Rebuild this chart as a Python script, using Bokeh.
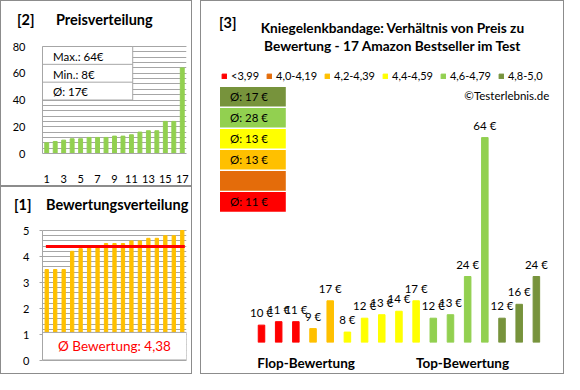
from bokeh.plotting import figure
from bokeh.models import (ColumnDataSource, Div, FixedTicker, Label, Legend, LegendItem,
                          Range1d, SingleIntervalTicker)
from bokeh.layouts import row, column
from bokeh.embed import file_html
from bokeh.resources import INLINE
from bokeh.core.properties import value

# ---------------- data ----------------
ratings = [3.5, 3.5, 3.5, 4.2, 4.3, 4.4, 4.4, 4.5, 4.5, 4.5, 4.6, 4.6, 4.7, 4.7, 4.8, 4.8, 5.0]
prices = [10, 11, 11, 9, 17, 8, 12, 13, 14, 17, 12, 13, 24, 64, 12, 16, 24]
class_labels = ["<3,99", "4,0-4,19", "4,2-4,39", "4,4-4,59", "4,6-4,79", "4,8-5,0"]
class_colors = ["#FF0000", "#E46C0A", "#FFC000", "#FFFF00", "#92D050", "#77933C"]
class_lower = [0.0, 4.0, 4.2, 4.4, 4.6, 4.8]
price_ticks = [1, 3, 5, 7, 9, 11, 13, 15, 17]
flop_top_labels = ["Flop-Bewertung", "Top-Bewertung"]

FONT = "Lato"
GRID = "#a6a6a6"
BORDER = "#8c8c8c"
TXT = "#000000"
BLINE = "1px solid " + BORDER
PANEL_STYLE = {"border": BLINE, "box-sizing": "border-box"}
HEAD_STYLE = {"border": BLINE, "border-bottom": "none", "box-sizing": "border-box",
              "background-color": "white"}
BODY_STYLE = {"border": BLINE, "border-top": "none", "box-sizing": "border-box"}


def mapper(fl, ft, fw, fh, xr, yr):
    def fx(px):
        return xr[0] + (px - fl) / fw * (xr[1] - xr[0])

    def fy(py):
        return yr[1] - (py - ft) / fh * (yr[1] - yr[0])
    return fx, fy


def base_fig(w, h, xr, yr, l, r, t, b, styles):
    p = figure(width=w, height=h, x_range=Range1d(*xr), y_range=Range1d(*yr),
               output_backend="svg", toolbar_location=None, title=None,
               min_border_left=l, min_border_right=r, min_border_top=t, min_border_bottom=b,
               background_fill_color="white", border_fill_color="white",
               outline_line_color=None, styles=styles)
    return p


def label(p, x, y, text, size, bold=False, align="left", color=TXT):
    p.add_layout(Label(x=x, y=y, text=text, text_font=FONT,
                       text_font_size=size, text_font_style="bold" if bold else "normal",
                       text_align=align, text_baseline="middle", text_color=color))


def head_div(w, h, tag, title, tag_x, title_x, top):
    span = ('<span style="position:absolute;left:%dpx;top:%dpx;white-space:nowrap;">%s</span>')
    html = ('<div style="position:relative;width:%dpx;height:%dpx;font-family:Lato;'
            'font-weight:bold;font-size:14.5px;line-height:17px;color:#000;">' % (w - 2, h - 1)
            + span % (tag_x, top, tag) + span % (title_x, top, title) + '</div>')
    return Div(text=html, width=w, height=h, margin=0, styles=HEAD_STYLE)


n = len(prices)
idx = list(range(1, n + 1))

# ---------------- panel [2] Preisverteilung ----------------
W2, H2, HH2 = 192, 186, 30
head2 = head_div(W2, HH2, "[2]", "Preisverteilung", 16, 55, 10)
BH2 = H2 - HH2
L2, R2, B2 = 41, 7, 33
plot_top2 = 46 - HH2               # where the value 80 sits inside the body
ymax2 = 80
fh2 = BH2 - B2
yr2 = (0, ymax2 * fh2 / (fh2 - plot_top2))
xr2 = (0.5, 17.5)
fx2, fy2 = mapper(L2, 0, W2 - L2 - R2, fh2, xr2, yr2)
p2 = base_fig(W2, BH2, xr2, yr2, L2, R2, 0, B2, BODY_STYLE)
sorted_prices = sorted(prices)
p2.vbar(x=idx, top=sorted_prices, width=0.46, color="#92D050")
p2.xgrid.visible = False
p2.ygrid.ticker = SingleIntervalTicker(interval=20, num_minor_ticks=5)
p2.ygrid.bounds = (0, ymax2)
p2.ygrid.grid_line_color = GRID
p2.ygrid.minor_grid_line_color = GRID
p2.yaxis.ticker = SingleIntervalTicker(interval=20, num_minor_ticks=5)
p2.yaxis.bounds = (0, ymax2)
p2.xaxis.ticker = FixedTicker(ticks=price_ticks)
for ax in (p2.xaxis[0], p2.yaxis[0]):
    ax.axis_line_color = GRID
    ax.major_tick_line_color = None
    ax.minor_tick_line_color = None
    ax.major_label_text_font = FONT
    ax.major_label_text_font_size = "11px"
    ax.major_label_text_color = TXT
p2.yaxis.major_label_standoff = 11
p2.xaxis.major_label_standoff = 15
# stats box
box_r = 11.15
p2.quad(left=xr2[0], right=box_r, bottom=40, top=80, fill_color="white",
        line_color=GRID, line_width=1)
p2.segment(x0=[xr2[0]] * 2, x1=[box_r] * 2, y0=[80 - 40 / 3, 80 - 80 / 3],
           y1=[80 - 40 / 3, 80 - 80 / 3], line_color=GRID)
mean_price = round(sum(prices) / n)
stats = ["Max.: %d€" % max(prices), "Min.: %d€" % min(prices), "Ø: %d€" % mean_price]
p2.text(x=[fx2(51.5)] * 3, y=[80 - 20 / 3 - 1, 60 - 0.6, 40 + 20 / 3 - 0.3], text=stats,
        text_font=value(FONT), text_font_size="11.5px", text_baseline="middle",
        text_color=TXT)

# ---------------- panel [1] Bewertungsverteilung ----------------
W1, H1, HH1 = 192, 188, 28
head1 = head_div(W1, HH1, "[1]", "Bewertungsverteilung", 13, 45, 9)
BH1 = H1 - HH1
L1, R1, B1 = 34, 7, 14
plot_top1 = 44 - HH1
ymax1 = 5
fh1 = BH1 - B1
yr1 = (0, ymax1 * fh1 / (fh1 - plot_top1))
xr1 = (0.5, 17.5)
p1 = base_fig(W1, BH1, xr1, yr1, L1, R1, 0, B1, BODY_STYLE)
p1.vbar(x=idx, top=ratings, width=0.39, color="#FFC000")
p1.xgrid.visible = False
p1.ygrid.ticker = SingleIntervalTicker(interval=1, num_minor_ticks=5)
p1.ygrid.bounds = (0, ymax1)
p1.ygrid.grid_line_color = GRID
p1.ygrid.minor_grid_line_color = GRID
p1.yaxis.ticker = SingleIntervalTicker(interval=1, num_minor_ticks=5)
p1.yaxis.bounds = (0, ymax1)
p1.yaxis.axis_line_color = GRID
p1.yaxis.major_tick_line_color = GRID
p1.yaxis.major_tick_out = 3
p1.yaxis.major_tick_in = 0
p1.yaxis.minor_tick_line_color = None
p1.yaxis.major_label_text_font = FONT
p1.yaxis.major_label_text_font_size = "11px"
p1.yaxis.major_label_text_color = TXT
p1.yaxis.major_label_standoff = 9
p1.xaxis.ticker = FixedTicker(ticks=[])
p1.xaxis.axis_line_color = GRID
p1.xaxis.major_tick_line_color = None
p1.xaxis.minor_tick_line_color = None
p1.xaxis.major_label_standoff = 0
mean_rating = sum(ratings) / n
p1.line(x=[1 - 0.1, n + 0.3], y=[mean_rating, mean_rating], line_color="#FF0000", line_width=3)
p1.quad(left=xr1[0], right=xr1[1], bottom=0.02, top=1.08, fill_color="white", line_color=GRID)
p1.text(x=[(xr1[0] + xr1[1]) / 2], y=[0.55],
        text=["Ø Bewertung: " + ("%.2f" % mean_rating).replace(".", ",")],
        text_font=value(FONT), text_font_size="13.5px", text_align="center",
        text_baseline="middle", text_color="#FF0000")

# ---------------- panel [3] Preis vs Bewertung ----------------
W3, H3 = 364, 374
L3, R3, T3, B3 = 0, 0, 0, 33
pitch = 17.18
x0_3 = 1 - 60.0 / pitch
xr3 = (x0_3, x0_3 + W3 / pitch)
pxe = 3.473
yr3 = (5, 5 + (H3 - B3) / pxe)
fx3, fy3 = mapper(L3, T3, W3 - L3 - R3, H3 - T3 - B3, xr3, yr3)
p3 = base_fig(W3, H3, xr3, yr3, L3, R3, T3, B3, PANEL_STYLE)
p3.grid.visible = False
p3.yaxis.visible = False


def cls_of(r):
    c = 0
    for i, lo in enumerate(class_lower):
        if r >= lo:
            c = i
    return c


classes = [cls_of(r) for r in ratings]
items = []
for ci, (lab, col) in enumerate(zip(class_labels, class_colors)):
    xs = [idx[i] for i in range(n) if classes[i] == ci]
    ys = [prices[i] for i in range(n) if classes[i] == ci]
    src = ColumnDataSource(dict(x=xs, top=ys))
    p3.vbar(x="x", top="top", bottom=0, width=0.38, color=col, source=src)
    # legend swatch proxy (not drawn in the plot itself)
    proxy = p3.vbar(x=[xr3[0]], top=[yr3[0]], bottom=yr3[0], width=0.38, color=col,
                    visible=False)
    items.append(LegendItem(label=lab, renderers=[proxy]))

p3.text(x=idx, y=prices, text=["%d €" % v for v in prices], text_font=value(FONT),
        text_font_size="11.5px", text_align="center", text_baseline="middle",
        y_offset=-12.5, text_color=TXT)

legend = Legend(items=items, orientation="horizontal", location=(20, 341 - 81),
                glyph_width=6, glyph_height=6, label_standoff=4, spacing=7,
                padding=0, margin=0, border_line_color=None, background_fill_alpha=0,
                label_text_font=FONT, label_text_font_size="11px", label_height=12,
                label_text_color=TXT)
p3.add_layout(legend, "center")

# averages per class, boxes from best to worst
box_top0, box_pitch, box_h = 85.4, 21.04, 19.6
bx_l, bx_r = fx3(18.5), fx3(84.3)
for k, ci in enumerate(reversed(range(len(class_labels)))):
    top_px = box_top0 + k * box_pitch
    p3.quad(left=bx_l, right=bx_r, top=fy3(top_px), bottom=fy3(top_px + box_h),
            fill_color=class_colors[ci], line_color=None)
    vals = [prices[i] for i in range(n) if classes[i] == ci]
    if vals:
        avg = int(sum(vals) / len(vals) + 0.5)
        p3.text(x=[fx3(28.5)], y=[fy3(top_px + box_h / 2)], text=["Ø: %d €" % avg],
                text_font=value(FONT), text_font_size="11.5px", text_baseline="middle",
                text_color=TXT)

label(p3, fx3(17.5), fy3(21), "[3]", "14.5px", bold=True)
label(p3, fx3(191.3), fy3(26), "Kniegelenkbandage: Verhältnis von Preis zu", "13.7px",
      bold=True, align="center")
label(p3, fx3(191.3), fy3(44.3), "Bewertung - 17 Amazon Bestseller im Test", "13.7px",
      bold=True, align="center")
label(p3, fx3(347.8), fy3(94), "©Testerlebnis.de", "11.5px", align="right")

ft_ticks = [3.6, 12.7]
p3.xaxis.ticker = FixedTicker(ticks=ft_ticks)
p3.xaxis.major_label_overrides = {t: s for t, s in zip(ft_ticks, flop_top_labels)}
p3.xaxis.axis_line_color = None
p3.xaxis.major_tick_line_color = None
p3.xaxis.minor_tick_line_color = None
p3.xaxis.major_label_text_font = FONT
p3.xaxis.major_label_text_font_size = "13.5px"
p3.xaxis.major_label_text_font_style = "bold"
p3.xaxis.major_label_text_color = TXT
p3.xaxis.major_label_standoff = 6

left_col = column(head2, p2, head1, p1, spacing=0)
layout = row(left_col, p3, spacing=8)
open("out.html", "w").write(file_html(layout, INLINE))
